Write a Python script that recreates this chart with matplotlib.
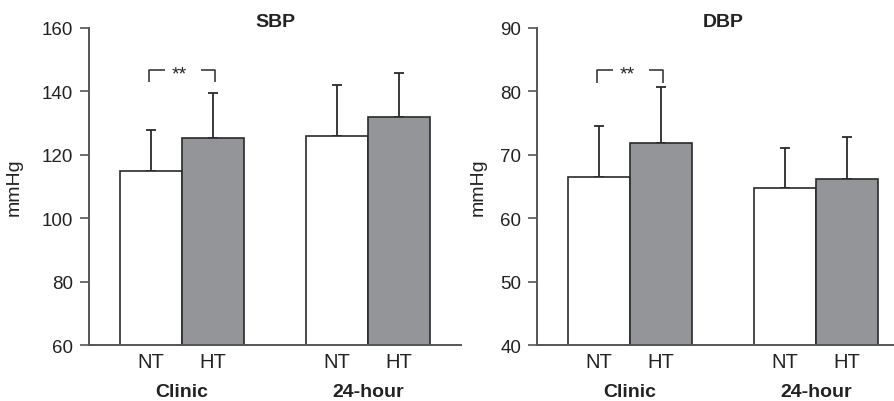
import numpy as np
import matplotlib.pyplot as plt

plt.rcParams['font.family'] = ['Liberation Sans', 'DejaVu Sans']

groups = ["Clinic", "24-hour"]
tick_labels = ["NT", "HT", "NT", "HT"]
positions = [1, 2, 4, 5]

sbp_mean = [115.0, 125.2, 125.9, 131.8]
sbp_sd = [12.8, 14.3, 16.1, 14.0]
dbp_mean = [66.5, 71.9, 64.7, 66.2]
dbp_sd = [8.0, 8.8, 6.3, 6.6]

white = "white"
grey = "#939598"
edge = "#2a2a2a"
spine_col = "#555555"
txt = "#222222"
colors = [white, grey, white, grey]

fig = plt.figure(figsize=(8.95, 4.02), dpi=100)
ax1 = fig.add_axes([0.0994, 0.1393, 0.4156, 0.7886])
ax2 = fig.add_axes([0.6, 0.1393, 0.4, 0.7886])


def panel(ax, means, sds, ylim, yticks, title, xmax, label_x, sig_y):
    ax.bar(positions, means, width=1.0, color=colors, edgecolor=edge,
           linewidth=1.2, zorder=2)
    ax.errorbar(positions, means, yerr=[np.zeros(4), sds], fmt='none',
                ecolor=edge, elinewidth=1.3, capsize=3.5, capthick=1.3,
                zorder=1)
    ax.set_xlim(0, xmax)
    ax.set_ylim(*ylim)
    ax.set_yticks(yticks)
    ax.set_xticks(positions)
    ax.set_xticklabels(tick_labels)
    ax.tick_params(axis='x', length=0, pad=5, labelsize=14.5, colors=txt)
    ax.tick_params(axis='y', length=6.5, width=1.2, pad=5, labelsize=13.5,
                   colors=spine_col, labelcolor=txt)
    for s in ['top', 'right']:
        ax.spines[s].set_visible(False)
    for s in ['left', 'bottom']:
        ax.spines[s].set_color(spine_col)
        ax.spines[s].set_linewidth(1.4)
    ax.set_ylabel("mmHg", fontsize=14, color=txt)
    ax.yaxis.set_label_coords(label_x, 0.5)
    ax.text(3, 1.022, title, transform=ax.get_xaxis_transform(),
            ha='center', va='center', fontsize=14, fontweight='bold',
            color=txt)
    for g, x in zip(groups, [1.5, 4.5]):
        ax.annotate(g, xy=(x, 0), xycoords=('data', 'axes fraction'),
                    xytext=(0, -27.5), textcoords='offset points',
                    ha='center', va='top', fontsize=14, fontweight='bold',
                    color=txt, annotation_clip=False)
    # significance bracket
    top, leg = sig_y
    ax.plot([0.97, 0.97, 1.22], [leg, top, top], color=edge, lw=1.1,
            solid_capstyle='butt', clip_on=False)
    ax.plot([1.8, 2.03, 2.03], [top, top, leg], color=edge, lw=1.1,
            solid_capstyle='butt', clip_on=False)
    ax.annotate("**", xy=(1.45, top), xytext=(0, -3),
                textcoords='offset points', ha='center', va='center',
                fontsize=14, color=txt)


panel(ax1, sbp_mean, sbp_sd, (60, 160), [60, 80, 100, 120, 140, 160],
      "SBP", 6.0, -0.178, (146.7, 143.0))
panel(ax2, dbp_mean, dbp_sd, (40, 90), [40, 50, 60, 70, 80, 90],
      "DBP", 5.77, -0.14, (83.4, 81.4))

fig.savefig("out.png", dpi=100)
